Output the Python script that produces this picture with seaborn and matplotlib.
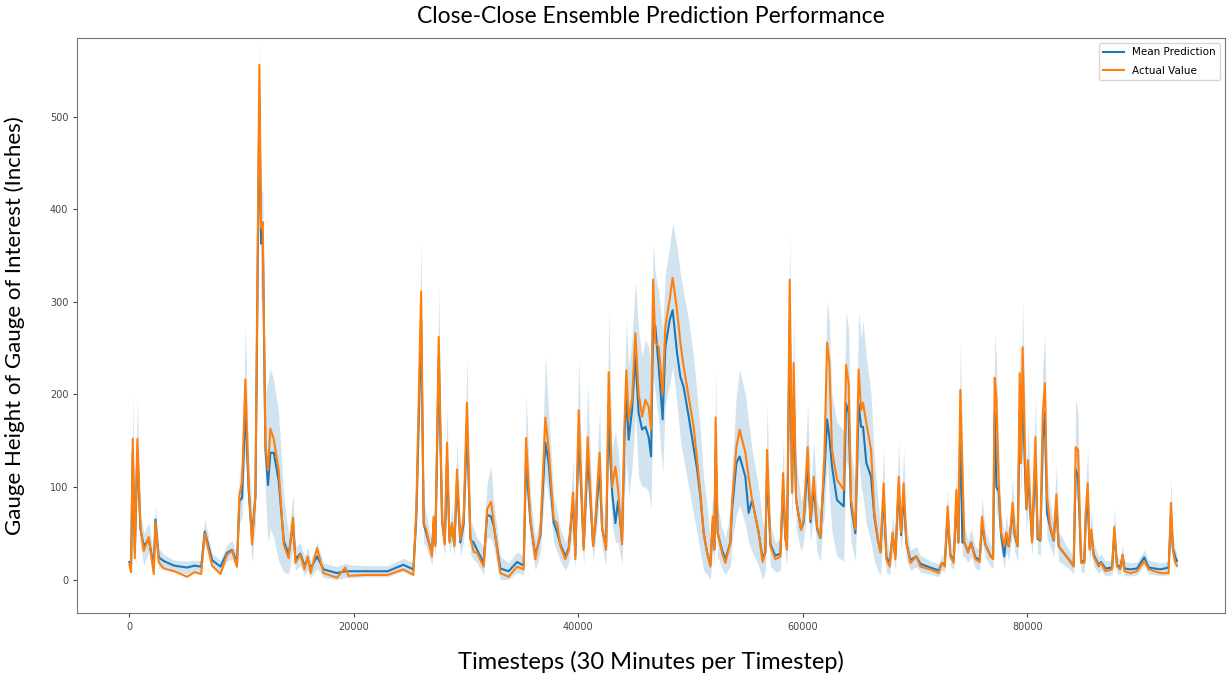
import pandas as pd
import seaborn as sns
import matplotlib.pyplot as plt

# values (keypoints of each series)
timestep = [
    0, 150, 300, 480, 710, 980, 1280, 1720, 2170, 2320,
    2610, 3060, 4000, 5140, 5800, 6400, 6710, 7370, 8110, 8700,
    9150, 9590, 9800, 10040, 10330, 10630, 10930, 11230, 11580, 11730,
    11880, 12120, 12350, 12560, 12860, 13300, 13750, 14190, 14580, 14790,
    15230, 15600, 15890, 16150, 16720, 17300, 18500, 19240, 19500, 21000,
    23000, 24400, 25300, 25570, 25990, 26220, 26450, 26960, 27100, 27260,
    27560, 27860, 28100, 28300, 28520, 28740, 28950, 29190, 29480, 29780,
    30070, 30380, 30670, 30980, 31560, 31870, 32220, 32460, 32760, 33050,
    33790, 34540, 35130, 35340, 35730, 36170, 36620, 37060, 37360, 37800,
    38100, 38400, 38840, 39140, 39530, 39730, 40030, 40470, 40830, 41310,
    41520, 41670, 41900, 42110, 42470, 42700, 42850, 43000, 43300, 43540,
    43890, 44100, 44280, 44480, 44780, 45080, 45370, 45680, 45970, 46260,
    46480, 46660, 46860, 47160, 47510, 47750, 48130, 48400, 48790, 49090,
    49380, 49830, 50270, 50580, 50870, 51160, 51470, 51760, 51970, 52120,
    52230, 52410, 52800, 53100, 53540, 53690, 54080, 54370, 54880, 55170,
    55480, 56060, 56420, 56660, 56810, 57110, 57550, 58000, 58240, 58440,
    58590, 58830, 59040, 59180, 59400, 59840, 60070, 60430, 60680, 60970,
    61270, 61560, 61800, 61920, 62160, 62360, 62600, 63040, 63640, 63850,
    64080, 64290, 64680, 64970, 65190, 65360, 65660, 66080, 66370, 66670,
    66910, 67200, 67440, 67730, 68000, 68240, 68540, 68750, 68980, 69220,
    69580, 70110, 70470, 71360, 72100, 72400, 72640, 72900, 73140, 73440,
    73680, 73860, 74030, 74210, 74390, 74720, 74990, 75370, 75750, 75960,
    76260, 76710, 76950, 77090, 77240, 77450, 77660, 77950, 78130, 78340,
    78550, 78690, 78870, 79140, 79320, 79440, 79580, 79760, 79910, 80060,
    80270, 80420, 80720, 80920, 81160, 81370, 81570, 81750, 82050, 82340,
    82590, 82790, 83240, 83680, 84130, 84310, 84520, 84790, 85080, 85200,
    85380, 85550, 85700, 85910, 86350, 86570, 86950, 87550, 87750, 87990,
    88280, 88490, 88640, 89180, 89770, 90420, 90810, 91850, 92590, 92800,
    92970, 93190, 93340,
]
actual = [
    16, 8, 152, 23, 152, 57, 31, 46, 6, 62,
    19, 12, 9, 3, 8, 6, 50, 15, 6, 27,
    31, 14, 92, 105, 216, 102, 38, 92, 556, 380,
    386, 145, 118, 163, 152, 118, 38, 23, 67, 18,
    27, 11, 25, 7, 34, 7, 2, 13, 4, 5,
    5, 11, 5, 79, 311, 61, 54, 25, 68, 36,
    262, 65, 38, 148, 40, 61, 36, 119, 43, 65,
    191, 46, 30, 29, 14, 76, 84, 61, 32, 7,
    3, 14, 11, 153, 65, 22, 51, 175, 140, 65,
    61, 36, 22, 32, 94, 22, 183, 32, 154, 36,
    65, 97, 137, 57, 32, 224, 162, 100, 122, 97,
    38, 165, 226, 173, 194, 266, 201, 176, 194, 187,
    162, 324, 256, 251, 201, 273, 302, 326, 291, 256,
    230, 197, 165, 129, 94, 51, 29, 14, 68, 32,
    175, 51, 29, 18, 40, 83, 143, 162, 137, 111,
    86, 51, 19, 29, 140, 36, 22, 25, 115, 46,
    32, 324, 94, 234, 86, 54, 65, 143, 65, 111,
    57, 46, 104, 133, 256, 234, 140, 108, 97, 232,
    212, 86, 54, 227, 183, 191, 169, 140, 72, 46,
    29, 104, 22, 14, 51, 22, 111, 51, 104, 40,
    18, 25, 14, 11, 7, 18, 14, 79, 25, 18,
    97, 40, 205, 122, 40, 29, 40, 22, 19, 68,
    38, 25, 22, 218, 197, 104, 51, 36, 51, 36,
    61, 83, 51, 36, 223, 126, 251, 154, 76, 129,
    76, 40, 154, 46, 43, 178, 212, 90, 57, 43,
    92, 36, 29, 22, 14, 143, 140, 18, 18, 72,
    104, 32, 54, 25, 14, 18, 9, 11, 57, 14,
    11, 27, 9, 7, 9, 20, 11, 7, 7, 83,
    32, 18, 15,
]
mean_pred = [
    19, 16, 138, 30, 140, 55, 36, 44, 14, 65,
    24, 20, 15, 13, 15, 14, 52, 21, 14, 29,
    32, 18, 85, 88, 185, 95, 45, 90, 520, 363,
    372, 140, 102, 137, 137, 107, 42, 27, 60, 22,
    28, 15, 22, 12, 25, 11, 7, 9, 9, 9,
    9, 16, 11, 70, 280, 60, 50, 28, 62, 38,
    240, 62, 40, 130, 42, 58, 38, 108, 40, 60,
    170, 43, 40, 32, 18, 70, 68, 58, 35, 12,
    9, 19, 15, 130, 62, 26, 48, 148, 125, 62,
    51, 38, 25, 34, 85, 26, 160, 35, 135, 38,
    60, 85, 120, 55, 35, 190, 130, 95, 61, 85,
    42, 150, 200, 151, 183, 241, 180, 162, 165, 154,
    133, 280, 273, 230, 173, 251, 280, 291, 245, 219,
    208, 176, 143, 119, 90, 51, 29, 16, 60, 35,
    140, 50, 32, 22, 40, 75, 126, 133, 111, 72,
    86, 51, 22, 30, 120, 38, 26, 28, 100, 45,
    35, 280, 94, 200, 86, 54, 62, 125, 62, 100,
    55, 45, 95, 115, 173, 154, 122, 86, 79, 190,
    180, 80, 50, 190, 165, 165, 126, 111, 68, 44,
    30, 90, 25, 17, 48, 25, 100, 48, 92, 40,
    21, 25, 17, 13, 10, 18, 15, 70, 27, 20,
    85, 40, 170, 40, 40, 30, 40, 24, 21, 60,
    38, 26, 23, 180, 100, 95, 48, 25, 48, 36,
    58, 76, 48, 36, 180, 126, 210, 130, 76, 115,
    72, 42, 130, 44, 42, 150, 180, 72, 55, 42,
    82, 36, 29, 22, 15, 119, 111, 20, 20, 65,
    90, 34, 50, 27, 16, 19, 12, 13, 50, 16,
    13, 26, 12, 11, 12, 24, 13, 11, 13, 72,
    34, 24, 20,
]
band_low = [
    12, 8, 95, 15, 95, 38, 15, 30, 2, 45,
    12, 13, 9, 6, 9, 8, 38, 13, 7, 20,
    22, 10, 60, 68, 140, 70, 18, 60, 440, 300,
    310, 90, 40, 55, 45, 20, 8, 6, 35, 10,
    15, 5, 10, 2, 12, 2, 0, 2, 2, 3,
    3, 9, 4, 50, 230, 40, 35, 15, 45, 25,
    200, 45, 25, 100, 28, 42, 25, 80, 25, 42,
    130, 28, 22, 18, 5, 45, 45, 35, 15, 0,
    0, 8, 5, 100, 40, 10, 30, 110, 90, 40,
    30, 20, 10, 18, 60, 10, 120, 15, 100, 20,
    40, 60, 90, 35, 15, 150, 100, 60, 40, 40,
    15, 90, 130, 90, 120, 180, 110, 100, 100, 95,
    75, 220, 200, 170, 115, 190, 210, 230, 190, 150,
    130, 100, 70, 50, 30, 10, 5, 0, 30, 15,
    100, 25, 12, 5, 15, 40, 70, 80, 60, 40,
    30, 15, 0, 10, 80, 15, 8, 10, 70, 25,
    15, 230, 60, 150, 55, 30, 40, 90, 40, 70,
    30, 20, 60, 70, 130, 90, 50, 25, 20, 130,
    120, 40, 20, 130, 100, 90, 60, 40, 20, 10,
    5, 50, 8, 5, 30, 10, 70, 30, 65, 22,
    10, 14, 8, 6, 3, 10, 8, 50, 15, 10,
    60, 25, 130, 25, 25, 18, 25, 12, 10, 42,
    24, 14, 12, 140, 70, 65, 30, 12, 30, 20,
    38, 50, 30, 20, 140, 90, 170, 95, 50, 80,
    48, 25, 95, 28, 26, 110, 140, 45, 35, 25,
    55, 20, 16, 12, 6, 90, 80, 8, 8, 45,
    65, 18, 32, 14, 7, 10, 4, 5, 35, 7,
    5, 16, 4, 4, 5, 15, 6, 4, 5, 50,
    20, 14, 12,
]
band_high = [
    27, 24, 200, 45, 195, 75, 50, 62, 25, 82,
    34, 27, 21, 20, 21, 20, 66, 28, 21, 38,
    42, 26, 115, 130, 273, 130, 75, 120, 580, 420,
    420, 200, 215, 228, 215, 180, 90, 50, 92, 35,
    40, 25, 35, 20, 40, 18, 14, 18, 16, 15,
    15, 23, 18, 100, 364, 85, 70, 40, 85, 50,
    316, 85, 55, 190, 55, 78, 52, 150, 60, 85,
    240, 65, 55, 45, 35, 105, 122, 85, 55, 25,
    18, 30, 25, 200, 90, 45, 70, 241, 180, 90,
    75, 55, 40, 50, 130, 40, 240, 55, 210, 55,
    90, 130, 185, 80, 55, 290, 220, 140, 160, 140,
    80, 210, 280, 230, 260, 323, 270, 240, 260, 250,
    230, 364, 330, 310, 270, 330, 360, 385, 360, 330,
    310, 280, 240, 200, 160, 110, 80, 45, 95, 60,
    230, 80, 55, 45, 75, 120, 200, 227, 200, 170,
    140, 100, 60, 55, 190, 60, 40, 45, 150, 70,
    55, 374, 140, 290, 130, 85, 95, 190, 95, 150,
    85, 75, 140, 180, 302, 280, 200, 170, 160, 290,
    270, 140, 100, 290, 260, 280, 240, 200, 130, 90,
    60, 140, 45, 30, 70, 40, 150, 75, 140, 60,
    32, 36, 26, 20, 17, 27, 23, 100, 40, 30,
    125, 58, 256, 160, 58, 42, 55, 35, 32, 90,
    52, 38, 34, 266, 240, 140, 70, 50, 70, 52,
    85, 110, 70, 52, 275, 170, 302, 200, 105, 170,
    105, 60, 200, 65, 60, 230, 265, 120, 80, 62,
    125, 52, 42, 33, 24, 195, 180, 32, 32, 100,
    140, 50, 75, 40, 25, 28, 20, 21, 78, 25,
    21, 38, 20, 18, 19, 32, 21, 18, 20, 110,
    48, 32, 28,
]

df = pd.DataFrame({"Timestep": timestep, "Actual": actual, "Mean": mean_pred,
                   "Low": band_low, "High": band_high})

fig, ax = plt.subplots(figsize=(12.29, 6.78), dpi=100)
fig.subplots_adjust(left=0.063, right=0.997, bottom=0.096, top=0.944)

# ensemble spread
ax.fill_between(df["Timestep"], df["Low"], df["High"], color="#1f77b4",
                alpha=0.2, linewidth=0)
sns.lineplot(data=df, x="Timestep", y="Mean", color="#1f77b4", lw=1.5,
             label="Mean Prediction", ax=ax)
sns.lineplot(data=df, x="Timestep", y="Actual", color="#ff7f0e", lw=1.5,
             label="Actual Value", ax=ax)

ax.set_xlim(-4630, 97640)
ax.set_ylim(-36, 585)
ax.set_xticks([0, 20000, 40000, 60000, 80000])
ax.set_yticks([0, 100, 200, 300, 400, 500])
ax.tick_params(labelsize=7, colors="#444444", length=3)
for s in ax.spines.values():
    s.set_color("#777777")

lab_font = ["Lato", "DejaVu Sans"]
ax.set_title("Close-Close Ensemble Prediction Performance", fontsize=16.5,
             family=lab_font, pad=11)
ax.set_xlabel("Timesteps (30 Minutes per Timestep)", fontsize=17,
              family=lab_font, labelpad=14)
ax.set_ylabel("Gauge Height of Gauge of Interest (Inches)", fontsize=16,
              family=lab_font, labelpad=18)

ax.legend(loc="upper right", fontsize=7.5, frameon=True, edgecolor="#cccccc",
          labelspacing=0.8)

plt.savefig("out.png", dpi=100)
